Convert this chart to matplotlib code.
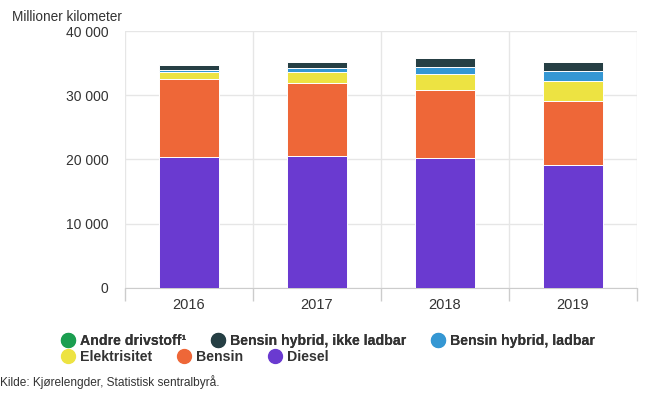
import matplotlib.pyplot as plt
from matplotlib.lines import Line2D
import numpy as np

plt.rcParams['font.family'] = ['Liberation Sans', 'DejaVu Sans']

years = ['2016', '2017', '2018', '2019']
# millioner km
diesel = [20400, 20550, 20230, 19190]
bensin = [12130, 11280, 10590, 9840]
elektrisitet = [1040, 1740, 2440, 3190]
hybrid_ladbar = [400, 720, 1140, 1550]
hybrid_ikke = [730, 930, 1350, 1450]
andre = [30, 30, 30, 30]

series = [
    ('Diesel', diesel, '#6a3ad0'),
    ('Bensin', bensin, '#ee6738'),
    ('Elektrisitet', elektrisitet, '#ede342'),
    ('Bensin hybrid, ladbar', hybrid_ladbar, '#3597d3'),
    ('Bensin hybrid, ikke ladbar', hybrid_ikke, '#263f44'),
    ('Andre drivstoff¹', andre, '#1b9e50'),
]
colors = {name: c for name, _, c in series}

fig = plt.figure(figsize=(6.53, 3.93), dpi=100)
ax = fig.add_axes([0.1914, 0.2672, 0.7841, 0.6539])

x = np.arange(len(years))
bottom = np.zeros(len(years))
for name, vals, c in series:
    ax.bar(x, vals, width=0.47, bottom=bottom, color=c, edgecolor='white',
           linewidth=0.7, zorder=3)
    bottom += np.array(vals)

ax.set_xlim(-0.5, 3.5)
ax.set_ylim(0, 40000)
ax.set_yticks([0, 10000, 20000, 30000, 40000])
ax.set_yticklabels(['0', '10 000', '20 000', '30 000', '40 000'])
ax.set_xticks(x)
ax.set_xticklabels(years)
ax.set_xticks(np.arange(-0.5, 4, 1), minor=True)

ax.grid(axis='y', color='#e6e6e6', linewidth=1, zorder=0)
ax.grid(axis='x', which='minor', color='#e6e6e6', linewidth=1, zorder=0)
ax.tick_params(axis='x', which='major', length=0, labelsize=10.5,
               labelcolor='#333333', pad=7)
ax.tick_params(axis='x', which='minor', length=9, color='#cccccc', width=1)
ax.tick_params(axis='y', length=0, labelsize=10, labelcolor='#333333', pad=12)
for s in ['top', 'right', 'left']:
    ax.spines[s].set_visible(False)
ax.spines['bottom'].set_color('#cccccc')

fig.text(0.018, 0.958, 'Millioner kilometer', fontsize=9.8, color='#333333',
         va='center', ha='left')


def make_legend(names, y, spacing):
    handles = [Line2D([], [], marker='o', linestyle='none', markersize=10,
                      markerfacecolor=colors[n], markeredgecolor=colors[n])
               for n in names]
    leg = fig.legend(handles, names, loc='upper left', bbox_to_anchor=(0.082, y),
                     ncol=3, frameon=False, handletextpad=0.35,
                     columnspacing=spacing, handlelength=1.0, borderpad=0,
                     prop={'weight': 'bold', 'size': 10.2})
    for t in leg.get_texts():
        t.set_color('#333333')
    return leg


l1 = make_legend(['Andre drivstoff¹', 'Bensin hybrid, ikke ladbar',
                  'Bensin hybrid, ladbar'], 0.167, 1.75)
fig.add_artist(l1)
make_legend(['Elektrisitet', 'Bensin', 'Diesel'], 0.127, 1.75)

fig.text(0.0, 0.027, 'Kilde: Kjørelengder, Statistisk sentralbyrå.',
         fontsize=8.6, color='#333333', va='center', ha='left')

fig.savefig('out.png', dpi=100)
